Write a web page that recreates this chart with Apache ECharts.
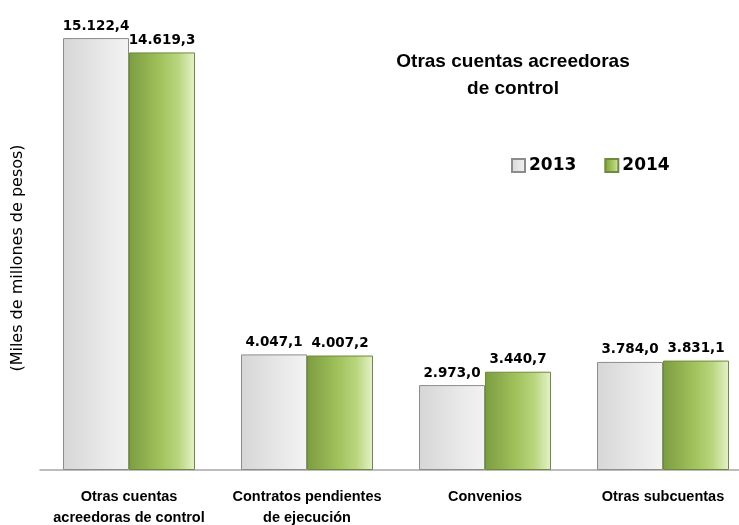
<!DOCTYPE html>
<html>
<head>
<meta charset="utf-8">
<script src="https://cdn.jsdelivr.net/npm/echarts@6/dist/echarts.min.js"></script>
<style>
    html, body { margin: 0; padding: 0; background: #fff; }
    #chart { width: 739px; height: 525px; }
</style>
</head>
<body>
<div id="chart"></div>
<script>
const categories = ['Otras cuentas\nacreedoras de control', 'Contratos pendientes\nde ejecución', 'Convenios', 'Otras subcuentas']
const values2013 = [15122.4, 4047.1, 2973.0, 3784.0]
const values2014 = [14619.3, 4007.2, 3440.7, 3831.1]

const myChart = echarts.init(document.getElementById('chart'))

// formato 15.122,4
const fmt = (v) => {
    const parts = v.toFixed(1).split('.')
    return parts[0].replace(/\B(?=(\d{3})+(?!\d))/g, '.') + ',' + parts[1]
}

const grayFill = new echarts.graphic.LinearGradient(0, 0, 1, 0, [
    { offset: 0, color: '#d6d6d6' },
    { offset: 0.6, color: '#e8e8e8' },
    { offset: 1, color: '#f3f3f3' }
])
const greenFill = new echarts.graphic.LinearGradient(0, 0, 1, 0, [
    { offset: 0, color: '#7c9c42' },
    { offset: 0.45, color: '#9fc05a' },
    { offset: 0.75, color: '#b9d67e' },
    { offset: 1, color: '#e6f2c9' }
])

const barLabel = {
    show: true,
    position: 'top',
    distance: 5,
    color: '#000',
    fontFamily: 'DejaVu Sans',
    fontWeight: 'bold',
    fontSize: 13.5,
    formatter: (p) => fmt(p.value)
}

const option = {
    animation: false,
    title: {
        text: 'Otras cuentas acreedoras\nde control',
        left: 508,
        top: 43,
        textAlign: 'center',
        textStyle: {
            fontFamily: 'Liberation Sans',
            fontWeight: 'bold',
            fontSize: 19,
            lineHeight: 27,
            color: '#000'
        }
    },
    legend: {
        left: 506,
        top: 152,
        icon: 'rect',
        itemWidth: 13,
        itemHeight: 13,
        itemGap: 28,
        data: ['2013', '2014'],
        textStyle: {
            fontFamily: 'DejaVu Sans',
            fontWeight: 'bold',
            fontSize: 17,
            color: '#000',
            padding: [0, 0, 0, -1]
        }
    },
    graphic: [{
        type: 'text',
        x: 18,
        y: 258,
        rotation: Math.PI / 2,
        style: {
            text: '(Miles de millones de pesos)',
            fontFamily: 'DejaVu Sans',
            fontSize: 16,
            fill: '#000',
            align: 'center',
            verticalAlign: 'middle'
        }
    }],
    grid: {
        left: 40,
        top: 13,
        width: 712,
        bottom: 55,
        outerBoundsMode: 'none'
    },
    xAxis: {
        type: 'category',
        data: categories,
        axisLine: { lineStyle: { color: '#a6a6a6', width: 1.5 } },
        axisTick: { show: false },
        axisLabel: {
            margin: 16,
            interval: 0,
            color: '#000',
            fontFamily: 'Liberation Sans',
            fontWeight: 'bold',
            fontSize: 14.5,
            lineHeight: 21
        }
    },
    yAxis: {
        type: 'value',
        min: 0,
        max: 16000,
        show: false
    },
    series: [
        {
            name: '2013',
            type: 'bar',
            barWidth: 66,
            barGap: '0%',
            data: values2013,
            itemStyle: { color: grayFill, borderColor: '#8c8c8c', borderWidth: 1 },
            label: barLabel
        },
        {
            name: '2014',
            type: 'bar',
            barWidth: 66,
            data: values2014,
            itemStyle: { color: greenFill, borderColor: '#6e8a3c', borderWidth: 1 },
            label: barLabel
        }
    ]
}

myChart.setOption(option)
</script>
</body>
</html>
